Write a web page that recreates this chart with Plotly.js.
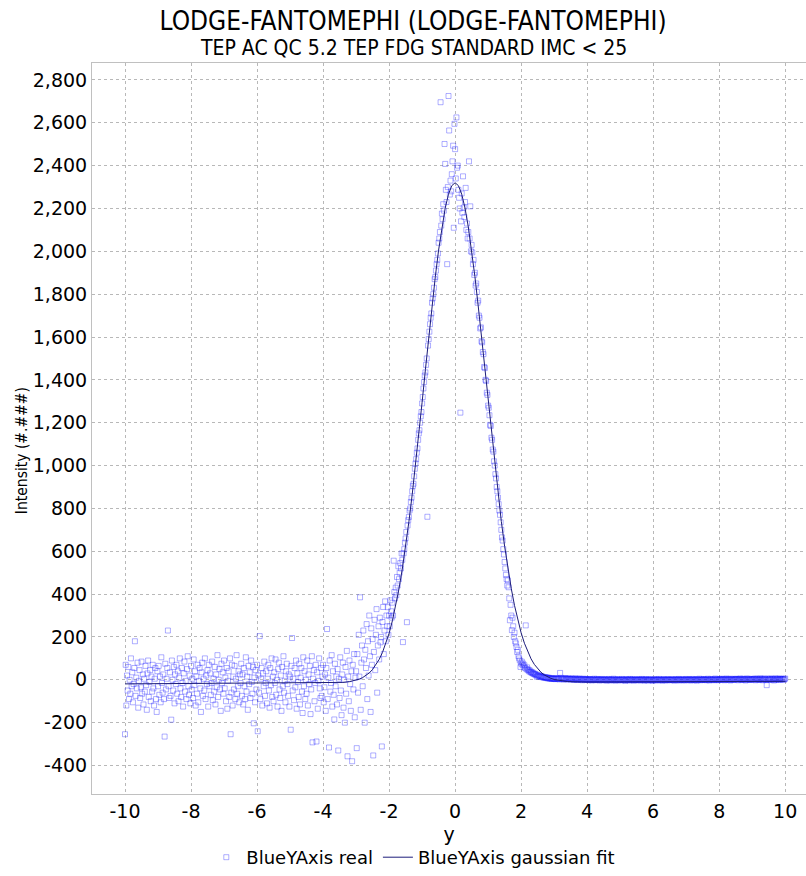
<!DOCTYPE html>
<html>
<head>
<meta charset="utf-8">
<script src="https://cdn.plot.ly/plotly-3.0.1.min.js"></script>
<style>html,body{margin:0;padding:0;background:#fff;}#chart{width:806px;height:876px;}</style>
</head>
<body>
<div id="chart"></div>
<script>
// ---- Data ----
const titleMain = 'LODGE-FANTOMEPHI (LODGE-FANTOMEPHI)';
const titleSub = 'TEP AC QC 5.2 TEP FDG STANDARD IMC &lt; 25';
const xTitle = 'y';
const yTitle = 'Intensity (#.###)';
const seriesRealName = 'BlueYAxis real';
const seriesFitName = 'BlueYAxis gaussian fit';

// measured samples start at x = -10 with a spacing of 0.02
const realStart = -10;
const realStep = 0.02;

// x = -10.00 .. -3.02
const yBaseLeft = [
-254,70,-120,20,-50,60,-90,0,-65,100,-30,35,-105,-20,55,180,-75,10,-40,80,-130,-5,45,-85,-35,
85,-65,25,-115,5,-55,65,-25,-140,30,90,-80,-10,45,-100,15,-55,70,-40,-120,5,55,-90,-150,40,
-30,65,-70,15,-105,105,-15,-60,25,-90,-265,75,-45,5,55,230,-30,-85,35,-75,-186,90,0,-50,60,
-110,25,-20,70,-65,40,-100,10,100,-40,-80,55,-15,-125,30,85,-55,-5,-90,50,110,-30,-70,20,-110,
65,-45,5,-85,95,-25,40,-120,15,-65,70,-105,-5,55,-40,-150,35,80,-75,5,-50,100,-90,20,-20,
45,-125,70,-30,30,-70,-15,85,-95,5,-55,60,-115,25,-35,115,-80,0,50,-45,-145,75,-15,35,-65,
90,-40,10,-100,55,-135,-5,40,-80,100,-254,-60,70,-120,15,-45,65,-90,5,115,-65,-30,40,-105,25,
-15,75,-75,25,-115,55,-30,-90,105,-55,15,-140,65,-20,35,-85,90,-10,-65,60,-203,10,-105,45,-45,
70,-240,20,-60,204,-90,5,55,-120,30,-30,85,-75,-15,40,-110,5,70,-50,-130,55,-25,100,-80,15,
-100,35,-15,95,-70,0,-125,50,80,-45,-85,20,-145,60,-30,110,-60,-5,-105,40,75,-20,-75,25,-125,
15,-233,65,195,-50,5,-95,55,-35,90,-135,30,-10,-80,75,-115,10,55,-55,-155,105,-30,40,-90,0,
-65,90,-120,25,-20,65,-160,-45,110,-292,5,45,-100,-15,70,-288,35,-135,-5,100,-40,-85,55,-75,15,
70,-105,-35,25,-145,55,237,-90,10,-316,90,-55,-15,115,-125,40,-70,-185,75,-30,15,-115,50,-330,5,
-85,105,-50,-165,25,80,-130,0,-200,60,-65,135,-357,15,-100,90,-20,-145,40,-380,70,-45,120,-175,10
];
// x = -3.00 .. -2.02
const yRise = [
40,-319,120,-60,210,15,385,-140,80,160,
-30,230,95,-200,140,55,260,-90,180,20,
300,110,-150,240,70,190,-353,130,280,45,
210,330,-60,160,250,95,290,175,200,-311,
270,340,120,230,366,180,300,250,339,210
];
// x = -2.00 .. -0.52
const yLeftFlank = [
300,250,371,320,290,360,300,556,410,380,
430,395,480,440,530,470,500,545,520,590,
560,176,590,610,640,660,690,269,720,745,
760,790,800,830,850,880,905,915,950,985,
1010,1030,1060,1080,1120,1150,1165,1200,1230,1250,
1290,1320,1360,1390,1420,1435,1470,1500,761,1560,
1590,1625,1660,1690,1710,1760,1780,1800,1830,1870,
1880,1910,1940,1960,1990
];
// x = -0.50 .. 0.50
const yPeak = [
2040,2060,2090,2696,2120,2176,2150,2220,2190,2501,
2408,2287,2230,1940,2300,2725,2564,2265,2330,2280,
2360,2420,2493,2110,2595,2477,2340,2625,2390,2400,
2287,2250,2200,1247,2140,2270,2180,2350,2204,2160,
2230,2296,2100,2130,2060,2090,2420,2060,2210,2000,
2030
];
// x = 0.52 .. 1.98
const yRightFlank = [
1995,1940,1960,1890,1900,1840,1850,1810,1760,1770,
1700,1690,1640,1645,1580,1575,1530,1520,1460,1455,
1400,1395,1340,1330,1280,1270,1235,1190,1185,1130,
1120,1075,1065,1020,1000,960,940,900,880,850,
820,790,770,735,700,665,650,610,585,550,
520,490,470,440,464,432,380,278,350,300,
232,290,250,200,220,180,170,153,130,140,
110,100,90,60
];
// x = 2.00 .. 3.00
const yTailNear = [
76,85,70,76,62,68,55,254,50,58,
45,48,40,44,36,38,32,35,29,30,
26,28,22,25,14,20,18,22,15,17,
13,18,12,14,10,13,9,12,8,11,
7,10,6,9,5,8,4,7,5,6,
4
];
// x = 3.02 .. 10.00
const yTailFar = [
6,3,8,5,5,4,7,2,32,5,9,3,4,7,1,5,8,3,6,2,4,7,3,5,1,
4,6,2,5,0,3,7,1,4,-1,5,2,3,6,0,2,4,-2,3,5,1,-1,4,2,0,
3,-2,1,4,0,2,-3,3,1,-1,5,0,-2,2,4,-1,1,3,-3,0,2,-2,4,1,-1,
0,3,-2,1,-4,2,0,4,-1,-3,1,3,0,-2,5,-1,2,-4,1,0,3,-2,-1,2,0,
-3,1,4,-1,0,2,-2,-5,3,1,-1,0,2,-3,4,1,-2,0,3,-1,-4,2,0,1,-2,
2,-1,0,3,-3,1,-2,4,0,-1,2,-4,1,3,-2,0,-3,2,1,-1,3,-2,0,-5,1,
0,2,-1,-3,3,1,-2,0,4,-1,-2,2,0,-4,1,3,-1,0,-3,2,1,-2,3,0,-1,
1,-2,3,0,-1,2,-4,1,0,3,-2,-1,2,4,-3,0,1,-1,3,-2,0,2,-3,1,4,
-1,0,2,-2,3,1,-3,0,4,-1,2,-2,1,0,3,-4,2,1,-1,5,0,-2,3,1,-1,
2,4,-1,0,3,-2,1,5,0,-3,2,1,4,-1,0,3,-2,2,6,-1,1,3,0,-2,4,
1,3,-1,5,2,0,4,-2,3,1,6,-1,2,4,0,3,-3,5,1,2,-1,4,0,3,2,
5,1,3,-2,4,2,6,0,3,-1,5,2,1,4,-3,3,6,0,2,5,-1,3,1,4,2,
0,4,2,6,-2,3,5,1,4,-1,2,7,0,3,5,-2,4,1,6,2,-1,-25,5,0,4,
2,6,-1,3,5,1,4,-3,2,7,0,4,2,5,-1,3,6,1,4,3,2,5,0,3,6
];

// gaussian fit curve
const xFit = [-10,-9,-8,-7,-6,-5,-4,-3.8,-3.6,-3.4,-3.2,-3,-2.9,-2.8,-2.7,-2.6,-2.5,-2.4,-2.3,-2.2,-2.1,-2,-1.9,-1.8,-1.7,-1.6,-1.5,-1.4,-1.3,-1.2,-1.1,-1,-0.9,-0.8,-0.7,-0.6,-0.5,-0.4,-0.3,-0.2,-0.1,0,0.1,0.2,0.3,0.4,0.5,0.6,0.7,0.8,0.9,1,1.1,1.2,1.3,1.4,1.5,1.6,1.7,1.8,1.9,2,2.1,2.2,2.3,2.4,2.5,2.6,2.7,2.8,2.9,3,3.2,3.4,3.6,3.8,4,5,6,7,8,9,10];
const yFit = [-19,-18.4,-17.8,-17.2,-16.6,-16,-15.2,-14.7,-13.9,-12.1,-8.6,-2,3.3,10.4,19.9,32.2,48.4,69.1,95.2,127.8,168,216.8,275.4,344.5,424.9,517.1,621.4,737.5,864.4,1001.1,1145.4,1295.1,1447.2,1598.1,1744.1,1881.2,2005.7,2113.7,2201.5,2266.6,2306.5,2320,2306.7,2266.8,2201.9,2114.1,2006.3,1882,1744.9,1599.1,1448.2,1296.3,1146.8,1002.5,866,739.1,623.2,519.1,426.9,346.7,277.6,219.2,170.6,130.4,98,71.9,51.4,35.4,23.1,13.8,6.7,1.6,-4.8,-8.1,-9.5,-10.1,-10.4,-10,-9.4,-8.8,-8.2,-7.6,-7];

// tick labels
const xTickVals = [-10,-8,-6,-4,-2,0,2,4,6,8,10];
const xTickText = ['-10','-8','-6','-4','-2','0','2','4','6','8','10'];
const yTickVals = [-400,-200,0,200,400,600,800,1000,1200,1400,1600,1800,2000,2200,2400,2600,2800];
const yTickText = ['-400','-200','0','200','400','600','800','1,000','1,200','1,400','1,600','1,800','2,000','2,200','2,400','2,600','2,800'];

// ---- Chart ----
const yReal = [].concat(yBaseLeft, yRise, yLeftFlank, yPeak, yRightFlank, yTailNear, yTailFar);
const condensed = 'DejaVu Sans Condensed, DejaVu Sans, sans-serif';

const traces = [
  {
    type: 'scatter', mode: 'markers', name: seriesRealName,
    x0: realStart, dx: realStep, y: yReal,
    marker: {symbol: 'square-open', size: 5, color: 'rgba(20,20,255,0.34)', line: {width: 1}}
  },
  {
    type: 'scatter', mode: 'lines', name: seriesFitName,
    x: xFit, y: yFit,
    line: {color: '#1c1c7a', width: 1}
  }
];

const gridCol = '#b8b8b8';
const layout = {
  width: 806, height: 876,
  margin: {l: 92, r: 0, t: 63, b: 78},
  paper_bgcolor: '#ffffff', plot_bgcolor: '#ffffff',
  font: {family: 'DejaVu Sans', color: '#000000', size: 19},
  title: {
    text: titleMain,
    font: {family: condensed, size: 26, color: '#000'},
    x: 0.5125, xref: 'container', xanchor: 'center',
    y: 0.9865, yref: 'container', yanchor: 'top'
  },
  annotations: [
    {
      text: titleSub, xref: 'paper', yref: 'paper', x: 0.4496, y: 1.021,
      xanchor: 'center', yanchor: 'middle', showarrow: false,
      font: {family: condensed, size: 21, color: '#000'}
    },
    {
      text: yTitle, xref: 'paper', yref: 'paper', x: -0.098, y: 0.469,
      xanchor: 'center', yanchor: 'middle', textangle: -90, showarrow: false,
      font: {family: condensed, size: 15.5, color: '#000'}
    }
  ],
  xaxis: {
    range: [-11, 10.63], tickmode: 'array', tickvals: xTickVals, ticktext: xTickText,
    showgrid: true, gridcolor: gridCol, griddash: 'dot', gridwidth: 1,
    showline: true, linecolor: '#c0c0c0', linewidth: 1, mirror: true,
    zeroline: false, ticks: '',
    tickfont: {family: 'DejaVu Sans', size: 19, color: '#000'},
    title: {text: xTitle, font: {family: 'DejaVu Sans', size: 19, color: '#000'}, standoff: 6},
    automargin: false
  },
  yaxis: {
    range: [-533, 2879], tickmode: 'array', tickvals: yTickVals, ticktext: yTickText,
    showgrid: true, gridcolor: gridCol, griddash: 'dot', gridwidth: 1,
    showline: true, linecolor: '#c0c0c0', linewidth: 1, mirror: false,
    zeroline: false, ticks: '',
    tickfont: {family: 'DejaVu Sans', size: 19, color: '#000'},
    automargin: false
  },
  showlegend: true,
  legend: {
    orientation: 'h', x: 0.45, xanchor: 'center', y: -0.087, yanchor: 'middle',
    font: {family: 'DejaVu Sans', size: 18, color: '#000'},
    bgcolor: 'rgba(0,0,0,0)', itemwidth: 30, tracegroupgap: 0
  }
};

Plotly.newPlot('chart', traces, layout, {displayModeBar: false, staticPlot: true});
</script>
</body>
</html>
